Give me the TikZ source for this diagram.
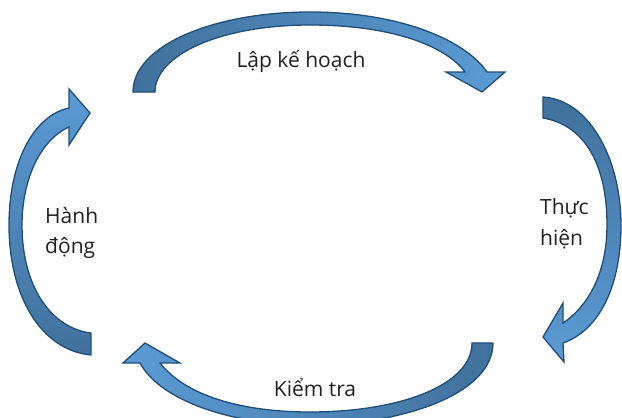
\documentclass[tikz,border=0pt]{standalone}
\usepackage{fontspec}
\setmainfont{Open Sans}
\begin{document}
\begin{tikzpicture}[x=1pt,y=-1pt,
  arrowband/.style={draw=bandline, line width=1.3pt, line join=miter},
  lbl/.style={font=\fontsize{21}{24}\selectfont, text=txt, inner sep=0pt}]
\definecolor{bandline}{RGB}{31,78,121}
\definecolor{darkband}{RGB}{65,113,156}
\definecolor{lightband}{RGB}{91,155,213}
\definecolor{txt}{RGB}{35,31,32}
\useasboundingbox (0,0) rectangle (622,418);
\clip (0,0) rectangle (622,418);
% top arrow
\path[arrowband, left color=darkband, right color=lightband]
  (133,92) .. controls (133,45) and (215,12) .. (310,12)
  .. controls (400,12) and (465,40) .. (487,72)
  -- (505,72) -- (482,92) -- (446,72) -- (465,72)
  .. controls (445,45) and (390,25) .. (310,25)
  .. controls (220,25) and (155,55) .. (155,92) -- cycle;
% right arrow
\path[arrowband, top color=darkband, bottom color=lightband]
  (543,97) .. controls (590,100) and (621,160) .. (621,225)
  .. controls (621,285) and (600,330) .. (563,343)
  -- (564,362) -- (543,337) -- (563,303) -- (563,323)
  .. controls (590,305) and (607,270) .. (607,225)
  .. controls (607,165) and (585,125) .. (543,118) -- cycle;
% bottom arrow
\path[arrowband, right color=darkband, left color=lightband]
  (493,343) .. controls (493,395) and (400,425) .. (310,425)
  .. controls (230,425) and (160,400) .. (140,363)
  -- (123,363) -- (145,343) -- (180,363) -- (160,363)
  .. controls (185,395) and (240,412) .. (310,412)
  .. controls (400,412) and (472,385) .. (472,343) -- cycle;
% left arrow
\path[arrowband, bottom color=darkband, top color=lightband]
  (91,355) .. controls (40,350) and (9,295) .. (9,225)
  .. controls (9,160) and (35,115) .. (69,108)
  -- (69,89) -- (90,113) -- (69,145) -- (69,127)
  .. controls (40,140) and (22,180) .. (22,225)
  .. controls (22,285) and (50,328) .. (91,333) -- cycle;
% labels
\node[lbl, anchor=base] (plan) at (301,67) {Lập kế hoạch};
\node[lbl, anchor=base west] (do1) at (540,214) {Thực};
\node[lbl, anchor=base west] (do2) at (540,245) {hiện};
\node[lbl, anchor=base] (check) at (315,396) {Kiểm tra};
\node[lbl, anchor=base west] (act1) at (45,223) {Hành};
\node[lbl, anchor=base west] (act2) at (45,253) {động};
\end{tikzpicture}
\end{document}
